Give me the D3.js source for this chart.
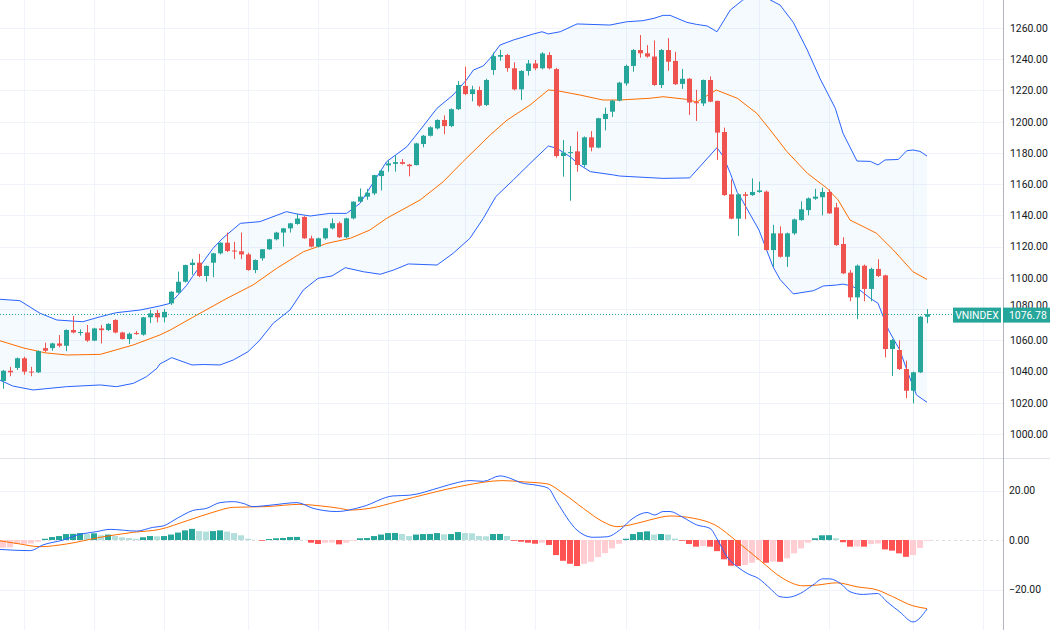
<!DOCTYPE html>
<html>
<head>
<meta charset="utf-8">
<title>VNINDEX</title>
<script src="https://d3js.org/d3.v7.min.js" charset="utf-8"></script>
<style>
    body { margin: 0; background: #fff; }
    svg text { font-family: Roboto, "Liberation Sans", sans-serif; }
</style>
</head>
<body>
<script>

    // daily candles (index 0 = leftmost bar)
    var opens = [1034,1040.5,1042.3,1048.5,1040,1039.5,1055,1055,1058,1056.5,
        1066.6,1065,1065,1059.8,1067.6,1066.6,1073,1065,1060.8,1064.7,
        1063.6,1074.7,1077.5,1074.7,1083.7,1090.5,1097.5,1108.2,1109.7,1101.2,
        1109.7,1115.7,1122.5,1117.5,1117,1115,1105,1112.5,1118.3,1124.7,
        1129,1131.7,1134.5,1139,1125.3,1120,1125.3,1131.7,1135,1126,
        1138.1,1148.8,1152,1154.1,1165.2,1172,1173,1174.1,1172.5,1172.2,
        1185.7,1191,1195.7,1201.1,1197.2,1208,1222.9,1217.7,1220.3,1210.7,
        1233.1,1241.6,1242.7,1234.2,1220.7,1232.5,1237.3,1234.2,1242.7,1233.7,
        1178,1180,1181,1172.3,1190,1183.4,1201.7,1206.4,1213.5,1224.5,
        1235.7,1245.9,1243.8,1241.7,1223.5,1245.9,1238.9,1224.2,1227.5,1212.5,
        1211.7,1226.7,1213.3,1193.4,1153.5,1137.9,1153.5,1153,1155,1155.2,
        1117.8,1128.5,1113.5,1128.5,1137,1143.4,1150.7,1151.6,1155,1145.1,
        1121.7,1103.3,1087.5,1107.8,1092.9,1105.7,1101.6,1054.4,1053.8,1041.6,
        1027.7,1039.5,1075.1];
    var highs = [1041,1043,1049,1049.5,1043,1053.5,1058.5,1058.5,1063.4,1067,
        1075.6,1067,1069.8,1068,1069.8,1071,1073.5,1065.5,1065,1066,
        1075,1079.5,1079.5,1080,1091.5,1104,1108.5,1112,1115.3,1108,
        1116,1122.8,1129,1123,1129,1116,1111.8,1118.5,1125,1129.5,
        1132,1135.2,1141,1139.5,1127,1125.8,1132,1138,1136,1138.5,
        1149,1157.3,1157,1166,1169.5,1175.5,1178.5,1176,1173,1186.5,
        1191.5,1197,1201.5,1204,1208.5,1226,1235.2,1223,1222.5,1227.5,
        1244.3,1246,1243.5,1238,1233,1239.5,1239.5,1244.5,1244.5,1234.5,
        1188.3,1184.4,1193.7,1190.5,1194,1202.5,1209,1214,1225.5,1236.5,
        1246.5,1255.5,1249,1252,1246.5,1253.5,1244.8,1233.8,1228,1220.4,
        1227,1229,1213.5,1196.2,1163,1154,1155,1163.7,1161.6,1156,
        1134,1133,1129,1138,1149,1151.5,1157,1157.8,1156.7,1148,
        1126,1105,1108.5,1108.5,1106.5,1111.9,1102,1060.8,1060,1047,
        1040,1075.5,1080];
    var lows = [1029,1037,1041,1038,1037,1039,1052.5,1053.3,1055.5,1053,
        1064.5,1063,1059,1059.5,1058,1066,1064.5,1060.5,1057.6,1063.5,
        1063,1071,1071.5,1071.5,1082.6,1090,1097,1102,1100.5,1097.5,
        1100.4,1115,1116.5,1112,1112,1104.5,1103,1111,1118,1124,
        1120,1129,1134,1125,1119.5,1119.5,1124.5,1131,1125.5,1125.5,
        1137.5,1148.5,1150,1153,1156,1168,1168,1172.5,1165,1172,
        1183.6,1190.5,1195,1192,1196.5,1207.5,1217,1213,1209.5,1210,
        1230,1239,1232,1220,1213.9,1229.5,1233,1233.5,1233.5,1177,
        1164.8,1149.4,1168,1171,1181,1183,1194.4,1203,1213,1223,
        1232,1241,1241,1223,1221.5,1232.6,1223.5,1221,1204.3,1200.5,
        1210,1212.5,1175.5,1152.5,1137.5,1126.8,1137.6,1152.5,1154.5,1117.5,
        1107,1113,1107,1127.5,1136.5,1140,1150,1140,1141,1120.5,
        1102.5,1085,1073.5,1085,1085,1100.5,1049,1037.1,1041,1023,
        1019.6,1039,1071];
    var closes = [1040.5,1039.5,1048.5,1039.9,1039.5,1053.1,1053.3,1058,1056.5,1066.6,
        1065,1065.3,1059.8,1067.6,1066.5,1070.5,1065,1060.8,1064.2,1064,
        1074.7,1077.2,1074.7,1078.2,1091.1,1097.5,1108.2,1109.7,1101.2,1107.6,
        1115.7,1122.5,1117.2,1117,1115,1105,1111.4,1118.3,1124.7,1129,
        1131.7,1134.9,1138,1125.3,1120,1125.3,1131.7,1135,1126,1138.1,
        1148.8,1152,1154.5,1165.8,1168.6,1173.3,1174.1,1173,1171.5,1186.1,
        1191,1196.4,1201.1,1197.2,1208,1223.5,1217.7,1220.7,1210.3,1226.7,
        1242,1242.7,1234.3,1220.7,1232.5,1237.3,1234.2,1243.7,1234.2,1178,
        1180.2,1180.5,1172.3,1190,1183.5,1202.2,1205,1213.5,1225,1235.7,
        1245.9,1243.8,1241.7,1223.5,1245.9,1238.4,1224,1227.5,1212.3,1211.8,
        1226.7,1212.8,1193,1153,1137.9,1153.5,1152.5,1155,1156,1117.8,
        1128.5,1113.5,1128.5,1137.4,1143.9,1150.9,1152,1155,1141.3,1121,
        1102.9,1087.5,1107.8,1092.9,1105.7,1101.2,1054.4,1060.2,1041.6,1027.7,
        1039.5,1075.1,1076.78];

    // Bollinger bands (bar index -> value)
    var upperIdx = [-0.5,2.4,5.3,7.7,11.4,13.9,16.2,19.6,22.4,23.9,26.2,27.1,30,31.3,33.9,36.7,40.5,42,43.9,46.7,
        49.1,51,54.8,57.7,59.6,62,64.3,66.2,67.2,68.6,69.6,71,72.9,75.8,77,77.9,79.6,82,86.7,89.1,
        91.4,93,94.3,95.3,97.7,99.1,100.6,102,103.9,105.7,108.1,109.6,111,112.9,114.9,116.7,118.9,120,122,123.9,
        125,126,127.9,129.1,130,131,132];
    var upperBand = [1086.3,1085.4,1077.3,1073,1071.9,1075.1,1077.7,1079.4,1082,1083.7,1095,1101,1118.9,1125,1134.9,1136,1142.4,1140.9,1139.6,1141.3,
        1141.3,1147.7,1174.4,1184,1194.7,1208.6,1217.1,1226.7,1233.1,1235.7,1240.6,1249.1,1252.3,1256.2,1257.6,1256.2,1257.6,1262.6,1261.9,1264,
        1264.7,1266.2,1268.1,1268.1,1263.6,1262.3,1261.3,1257.6,1271.5,1278,1282,1278,1274.7,1263.6,1245.9,1227.8,1208.6,1192.6,1174.8,1174.6,
        1172.3,1175.5,1175.8,1181.4,1181.9,1181,1178];
    var lowerIdx = [-0.5,1.4,4.3,9.1,13.9,16.2,18.6,20.5,22,22.4,24.1,27,28.6,31,32.9,35,36.7,38.6,41,42.9,
        45,47,48.9,51.5,53.9,55.8,57.9,62,64.3,66.7,68.6,70.4,72.9,75.3,77.9,79.1,81,82.4,83.9,87.2,
        88.1,94.3,98.1,102,102.9,103.9,104.9,105.3,108,110,111,112.9,115.8,117.2,119.1,120,121.2,122.4,123.9,125,
        126.5,128.1,129.3,130.5,132];
    var lowerBand = [1034.6,1030.7,1028.2,1030.3,1031.4,1030.3,1032.4,1036.7,1042.1,1044.8,1048.9,1044.2,1044.5,1044.2,1047.4,1052.7,1060.2,1070.9,1079.4,1092.2,
        1099.7,1101.2,1106.5,1103.9,1102.3,1105,1108.9,1108.2,1115.7,1125.3,1138,1152,1162.7,1173.3,1184.4,1183,1177.6,1172.3,1168,1165.9,
        1165.2,1163.7,1164,1183.4,1177.6,1167,1154.6,1152,1130.6,1107.1,1099,1089.7,1091.8,1094.8,1095.4,1096,1094.8,1092.2,1086.9,1083.7,
        1066.6,1053.8,1038.9,1025,1020.3];
    var basisIdx = [-0.5,3,6,9.1,13.9,18.6,22.4,23.9,27.1,32,35.7,39.1,42.9,46.3,49.6,52.4,54.8,59.6,62.9,65.7,
        69.6,72,75.3,77.9,79.1,82.4,85.7,88.1,92.4,94.3,97.7,99.1,101.9,104.9,107.7,109.6,112,114.9,117.7,119.3,
        121,123.4,124.8,127.2,130,132];
    var basis = [1059.8,1055,1052,1050.6,1051,1057,1063.4,1066.6,1074.7,1086.9,1095.4,1106.1,1116.7,1122.1,1125.3,1130.6,1138.1,1149.9,1161.6,1174.4,
        1191.5,1201,1210.7,1220.3,1219.9,1217.1,1213.9,1213.9,1215,1216,1214.3,1212.6,1220.3,1215,1205.3,1194.7,1180.8,1167,1157.4,1149.9,
        1137,1131.7,1128.5,1117.8,1103.9,1099];

    // MACD pane
    var histogram = [-3.1,-3.0,-1.6,-1.55,-1.4,-0.7,0.5,1.2,1.6,2.4,
        2.5,2.8,2.4,2.7,1.9,2.2,1.6,1.1,0.8,0.5,
        1.1,1.6,1.5,1.6,2.2,3.0,3.9,4.5,3.6,3.4,
        3.6,3.9,3.4,2.8,1.9,0.5,0.1,-0.3,0.4,0.7,
        0.8,1.2,1.25,0.1,-1.1,-1.6,-1.1,-1.0,-1.75,-1.1,
        -0.3,0.7,0.8,1.6,2.2,2.8,2.85,2.4,1.6,2.2,
        2.4,2.45,2.8,2.3,2.4,3.2,2.8,2.7,1.6,1.5,
        2.4,2.45,1.6,-0.3,-0.7,-1.1,-1.5,-1.1,-2.0,-6.1,
        -8.4,-9.6,-10.5,-9.6,-8.8,-6.9,-5.3,-3.4,-1.5,0.5,
        2.4,3.2,3.5,2.2,2.4,2.2,0.6,-0.3,-1.6,-2.7,
        -2.4,-2.7,-4.5,-7.8,-10.4,-10.5,-10.1,-9.2,-8.1,-9.2,
        -8.7,-8.8,-7.4,-5.4,-3.4,-1.1,0.7,1.9,1.95,0.7,
        -0.9,-2.7,-2.6,-2.7,-1.6,-1.4,-3.8,-4.3,-5.4,-6.8,
        -6.1,-3.2,-0.3];
    var macdIdx = [-0.5,3.9,5.7,8.6,10.6,13.4,15.3,19.1,21.4,22.9,24.9,27.1,29.1,31,32.9,34.3,35.7,38.6,42,44.3,
        47.7,51.4,55.7,58.1,62.4,64.9,66.7,68.6,71,72.4,73.9,76.3,77.9,79.1,82,84.3,86.3,88.1,90,92,
        93.1,94.3,95.3,97.1,99.1,101,102.1,103.4,104.9,106.3,107.9,109.6,111,112,113.9,115.7,117.1,118.1,119.6,121,
        122.9,124.9,126.3,128.1,130,132];
    var macdLine = [-3.8,-4.3,-2.0,0,2.0,3.4,4.3,3.6,5.1,5.7,8.8,11.9,12.8,15.1,15.5,14.8,13.5,14.2,15.1,12.8,
        11.5,13.5,17.8,18.1,21.2,23.2,24,23.7,25.9,25,23.2,22.1,20.9,15.5,4.0,1.1,1.3,4.0,8.8,11.1,
        10.1,11.5,11.5,9.2,6.1,4.7,0,-6.7,-10.8,-13.5,-15.5,-19.6,-22.9,-23.2,-21.6,-18.2,-15.7,-15.7,-17.5,-20.9,
        -22,-21.6,-25,-29,-33.1,-27.9];
    var signalIdx = [-0.5,2.4,5.3,9.1,13.9,18.6,22.4,26.3,30,32.9,37.7,42.4,45.3,48.1,49.6,52.4,56.3,61,65.7,71.4,
        74.3,77.7,80,82.9,85.7,87.7,89.6,92.4,95.3,98.6,101.7,104.9,108.1,111.4,114.3,116.3,119.1,122,124.9,127.1,
        130,132];
    var signalLine = [-0.3,-1.6,-2.7,-1.6,1.1,3.1,4.3,7.8,11.2,13.2,13.5,14.4,13.8,12.8,12.1,12.8,15.5,18.9,21.9,24,
        23.5,22.7,18.9,12.8,7.4,5.4,6.1,8.1,9.7,8.8,6.1,-0.7,-8.1,-15.5,-18.5,-18.2,-17.3,-18.9,-20.2,-22.9,
        -26.6,-27.7];

    var priceTicks = d3.range(1000, 1261, 20);
    var macdTicks = [-20, 0, 20];
    var gridBars = [3, 13, 23, 35, 45, 55, 66, 76, 89, 108, 118, 130, 140];
    var symbol = "VNINDEX";

    var width = 1050, height = 630;
    var axisX = 1003, paneSplit = 458;
    var up = "#26a69a", down = "#ef5350";
    var fontSize = "10.4px";

    var xScale = d3.scaleLinear().domain([0, 132]).range([3, 927]);
    var yPrice = d3.scaleLinear().domain([1000, 1260]).range([434, 28]);
    var yMacd = d3.scaleLinear().domain([-20, 20]).range([589.5, 490.5]);

    var svg = d3.select("body").append("svg")
        .attr("width", width)
        .attr("height", height);

    var defs = svg.append("defs");
    defs.append("clipPath").attr("id", "clipMain")
        .append("rect").attr("x", 0).attr("y", 0).attr("width", axisX).attr("height", paneSplit);
    defs.append("clipPath").attr("id", "clipMacd")
        .append("rect").attr("x", 0).attr("y", paneSplit).attr("width", axisX).attr("height", height - paneSplit);

    // grid
    var grid = svg.append("g").attr("stroke", "#f0f3fa").attr("stroke-width", 1);
    grid.selectAll(".vgrid").data(gridBars).enter().append("line")
        .attr("x1", function(d) { return Math.round(xScale(d)) + 0.5; })
        .attr("x2", function(d) { return Math.round(xScale(d)) + 0.5; })
        .attr("y1", 0).attr("y2", height);
    grid.selectAll(".hgrid").data(priceTicks).enter().append("line")
        .attr("x1", 0).attr("x2", axisX)
        .attr("y1", function(d) { return Math.round(yPrice(d)) + 0.5; })
        .attr("y2", function(d) { return Math.round(yPrice(d)) + 0.5; });
    grid.selectAll(".mgrid").data([-20, 20]).enter().append("line")
        .attr("x1", 0).attr("x2", axisX)
        .attr("y1", function(d) { return Math.round(yMacd(d)) + 0.5; })
        .attr("y2", function(d) { return Math.round(yMacd(d)) + 0.5; });

    // ---- price pane ----
    var main = svg.append("g").attr("clip-path", "url(#clipMain)");

    var upperPts = upperIdx.map(function(d, i) { return [xScale(d), yPrice(upperBand[i])]; });
    var lowerPts = lowerIdx.map(function(d, i) { return [xScale(d), yPrice(lowerBand[i])]; });
    var basisPts = basisIdx.map(function(d, i) { return [xScale(d), yPrice(basis[i])]; });
    var line = d3.line();

    main.append("path")
        .attr("d", line(upperPts.concat(lowerPts.slice().reverse())) + "Z")
        .attr("fill", "rgba(33,150,243,0.05)");
    main.append("path").attr("d", line(basisPts))
        .attr("fill", "none").attr("stroke", "#ff6d00").attr("stroke-width", 1);
    main.append("path").attr("d", line(upperPts))
        .attr("fill", "none").attr("stroke", "#2962ff").attr("stroke-width", 1);
    main.append("path").attr("d", line(lowerPts))
        .attr("fill", "none").attr("stroke", "#2962ff").attr("stroke-width", 1);

    var candles = main.selectAll(".candle").data(closes).enter().append("g")
        .attr("fill", function(d, i) { return d >= opens[i] ? up : down; })
        .attr("stroke", function(d, i) { return d >= opens[i] ? up : down; });
    candles.append("line")
        .attr("x1", function(d, i) { return Math.round(xScale(i)) + 0.5; })
        .attr("x2", function(d, i) { return Math.round(xScale(i)) + 0.5; })
        .attr("y1", function(d, i) { return yPrice(highs[i]); })
        .attr("y2", function(d, i) { return yPrice(lows[i]); })
        .attr("stroke-width", 1);
    candles.append("rect")
        .attr("x", function(d, i) { return Math.round(xScale(i)) - 2; })
        .attr("width", 5)
        .attr("y", function(d, i) { return yPrice(Math.max(d, opens[i])); })
        .attr("height", function(d, i) { return Math.max(1, Math.abs(yPrice(d) - yPrice(opens[i]))); })
        .attr("stroke", "none");

    // last price line
    var last = closes[closes.length - 1];
    var lastY = yPrice(last);
    svg.append("line")
        .attr("x1", 0).attr("x2", 953)
        .attr("y1", Math.round(lastY) + 0.5).attr("y2", Math.round(lastY) + 0.5)
        .attr("stroke", up).attr("stroke-width", 1).attr("stroke-dasharray", "1,2");

    // ---- MACD pane ----
    var macd = svg.append("g").attr("clip-path", "url(#clipMacd)");
    macd.append("line")
        .attr("x1", 0).attr("x2", axisX)
        .attr("y1", Math.round(yMacd(0)) + 0.5).attr("y2", Math.round(yMacd(0)) + 0.5)
        .attr("stroke", "rgba(120,123,134,0.25)").attr("stroke-dasharray", "3,3");

    macd.selectAll(".hist").data(histogram).enter().append("rect")
        .attr("x", function(d, i) { return Math.round(xScale(i)) - 3; })
        .attr("width", 6)
        .attr("y", function(d) { return yMacd(Math.max(0, d)); })
        .attr("height", function(d) { return Math.abs(yMacd(d) - yMacd(0)); })
        .attr("fill", function(d, i) {
            var prev = i > 0 ? histogram[i - 1] : d - 0.1;
            if (d >= 0) return prev < d ? "#26a69a" : "#b2dfdb";
            return prev < d ? "#ffcdd2" : "#ff5252";
        });

    var macdLineGen = d3.line().curve(d3.curveMonotoneX);
    macd.append("path")
        .attr("d", macdLineGen(signalIdx.map(function(d, i) { return [xScale(d), yMacd(signalLine[i])]; })))
        .attr("fill", "none").attr("stroke", "#ff6d00").attr("stroke-width", 1);
    macd.append("path")
        .attr("d", macdLineGen(macdIdx.map(function(d, i) { return [xScale(d), yMacd(macdLine[i])]; })))
        .attr("fill", "none").attr("stroke", "#2962ff").attr("stroke-width", 1);

    // pane separator and axis border
    svg.append("line").attr("x1", 0).attr("x2", width)
        .attr("y1", paneSplit + 0.5).attr("y2", paneSplit + 0.5)
        .attr("stroke", "#e0e3eb");
    svg.append("line").attr("x1", axisX + 0.5).attr("x2", axisX + 0.5)
        .attr("y1", 0).attr("y2", height)
        .attr("stroke", "#b2b5be");

    // axes
    var fmt = d3.format(".2f");
    var priceAxis = svg.append("g")
        .attr("transform", "translate(" + axisX + ",0)")
        .call(d3.axisRight(yPrice).tickValues(priceTicks).tickFormat(fmt).tickSize(0).tickPadding(7));
    var macdAxis = svg.append("g")
        .attr("transform", "translate(" + axisX + ",0)")
        .call(d3.axisRight(yMacd).tickValues(macdTicks).tickFormat(fmt).tickSize(0).tickPadding(6));
    [priceAxis, macdAxis].forEach(function(ax) {
        ax.select(".domain").remove();
        ax.selectAll("text")
            .style("font-size", fontSize)
            .style("font-family", "Roboto, 'Liberation Sans', sans-serif")
            .attr("fill", "#131722");
    });
    // the last-price tag sits over this label, only its top shows
    priceAxis.selectAll(".tick")
        .filter(function(d) { return Math.abs(yPrice(d) - yPrice(last)) < 10; })
        .select("text").attr("dy", "-0.05em");

    // last price tags
    var tagH = 15;
    svg.append("rect").attr("x", 953).attr("y", lastY - tagH / 2 + 1).attr("width", 48).attr("height", tagH)
        .attr("fill", up);
    svg.append("text").attr("x", 977).attr("y", lastY + 1).attr("dy", "0.35em")
        .attr("text-anchor", "middle").attr("fill", "#fff").style("font-size", fontSize)
        .text(symbol);
    svg.append("rect").attr("x", axisX).attr("y", lastY - tagH / 2 + 1).attr("width", width - axisX).attr("height", tagH)
        .attr("fill", up);
    svg.append("text").attr("x", axisX + 6).attr("y", lastY + 1).attr("dy", "0.35em")
        .attr("fill", "#fff").style("font-size", fontSize)
        .text(fmt(last));

</script>
</body>
</html>
